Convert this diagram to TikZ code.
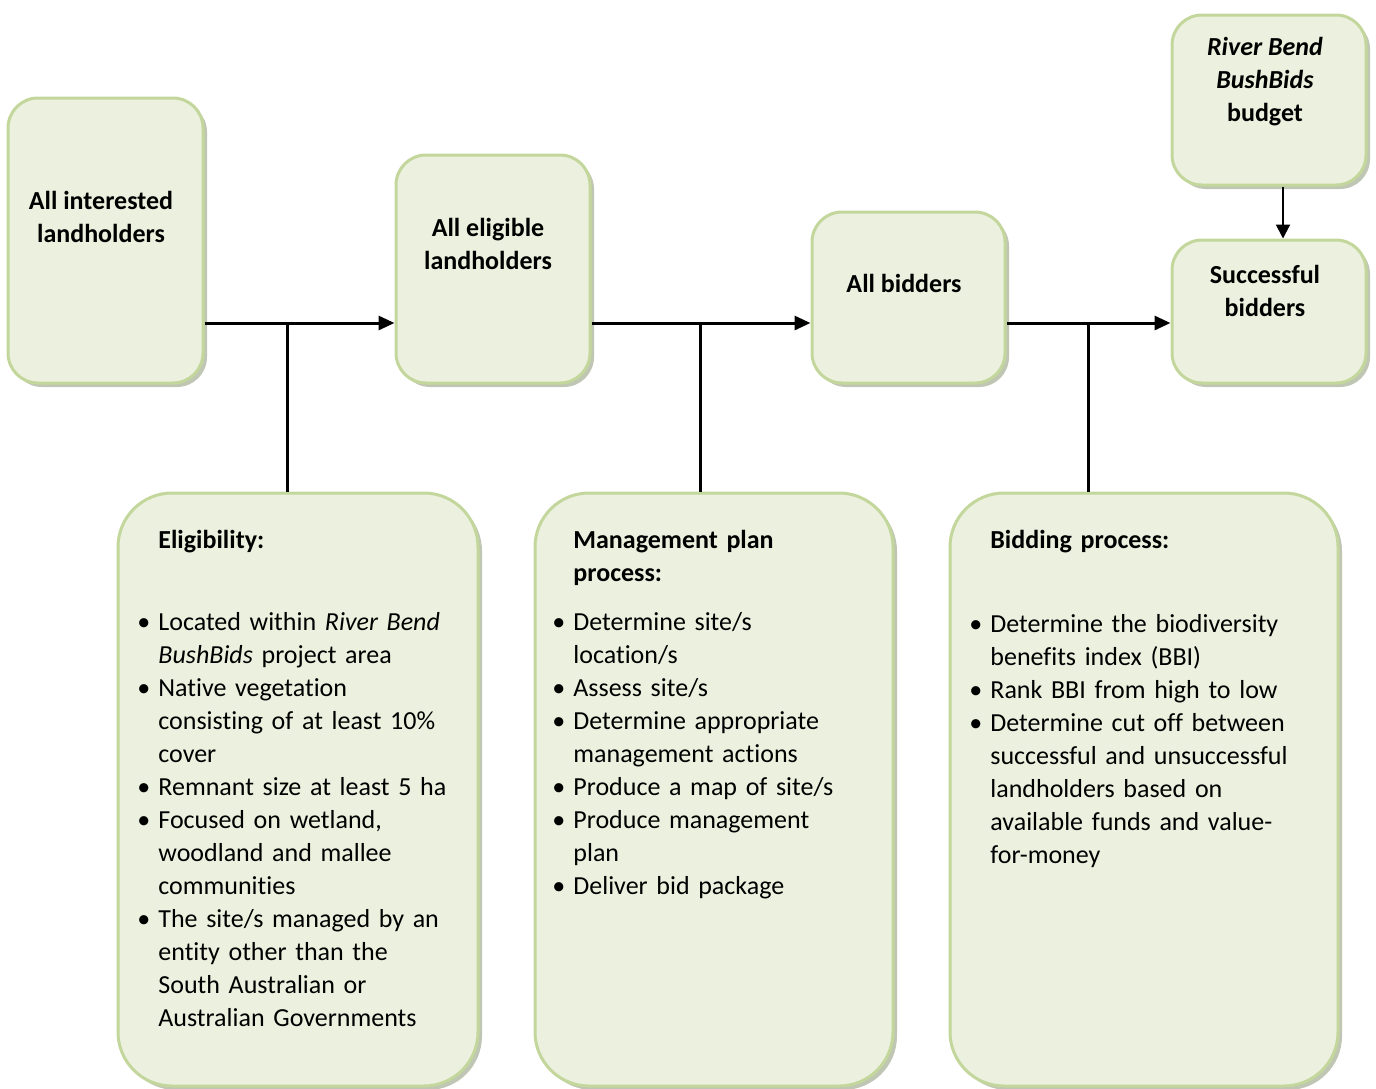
\documentclass[tikz,border=0pt]{standalone}
\usepackage{fontspec}
\setmainfont{Carlito}[Ligatures=NoCommon]
\usetikzlibrary{arrows.meta, shadows, positioning}
\definecolor{boxfill}{RGB}{235,241,222}
\definecolor{boxline}{RGB}{195,214,155}
\definecolor{boxshade}{RGB}{150,160,130}
\newcommand{\bfirst}{\noindent\llap{\textbullet\hspace{4pt}}}
\newcommand{\bpt}{\par\bfirst}

\begin{document}
\begin{tikzpicture}[x=0.5pt, y=-0.5pt,
  stage/.style={draw=boxline, fill=boxfill, line width=1.5pt, rounded corners=15pt, inner sep=0pt,
    drop shadow={shadow xshift=2pt, shadow yshift=-2pt, fill=boxshade, opacity=0.6}},
  panel/.style={stage, rounded corners=27pt},
  stagetext/.style={font=\bfseries\fontsize{13}{16.5}\selectfont, align=center, inner sep=0pt},
  heading/.style={font=\bfseries\fontsize{13}{16.5}\selectfont, align=left, anchor=base west, inner sep=0pt, text width=160pt},
  bullets/.style={font=\fontsize{13}{16.5}\selectfont, align=left, anchor=base west, inner sep=0pt, text width=165pt},
  flow/.style={line width=1.5pt, -{Triangle[length=8pt,width=7pt]}},
  branch/.style={line width=1.5pt}]
  \useasboundingbox (0,0) rectangle (1376,1088);

  % Stages along the top
  \node[stage, minimum width=97.5pt, minimum height=142.5pt] (interested) at (105.5,240.5) {};
  \node[stagetext] (interestedtext) at (101,217) {All interested\\landholders};

  \node[stage, minimum width=97pt, minimum height=114pt] (eligible) at (493,269) {};
  \node[stagetext] (eligibletext) at (488,244) {All eligible\\landholders};

  \node[stage, minimum width=96.5pt, minimum height=85.5pt] (bidders) at (908.5,297.5) {};
  \node[stagetext] (bidderstext) at (904,283) {All bidders};

  \node[stage, minimum width=97pt, minimum height=71.5pt] (successful) at (1269,311.5) {};
  \node[stagetext] (successfultext) at (1265,291) {Successful\\bidders};

  \node[stage, minimum width=97pt, minimum height=85pt] (budget) at (1269,100) {};
  \node[stagetext] (budgettext) at (1265,82) {\textit{River Bend}\\\textit{BushBids}\\budget};

  % Process panels
  \node[panel, minimum width=180pt, minimum height=296.5pt] (elig) at (298,789.5) {};
  \node[heading] (eligtitle) at (158,548) {Eligibility:};
  \node[bullets] (eliglist) at (158,630) {\bfirst Located within \textit{River Bend}\\\textit{BushBids} project area
    \bpt Native vegetation\\consisting of at least 10\%\\cover
    \bpt Remnant size at least 5 ha
    \bpt Focused on wetland,\\woodland and mallee\\communities
    \bpt The site/s managed by an\\entity other than the\\South Australian or\\Australian Governments};

  \node[panel, minimum width=179pt, minimum height=296.5pt] (mgmt) at (714,789.5) {};
  \node[heading] (mgmttitle) at (573,548) {Management plan\\process:};
  \node[bullets] (mgmtlist) at (573,630) {\bfirst Determine site/s\\location/s
    \bpt Assess site/s
    \bpt Determine appropriate\\management actions
    \bpt Produce a map of site/s
    \bpt Produce management\\plan
    \bpt Deliver bid package};

  \node[panel, minimum width=194pt, minimum height=296.5pt] (bidding) at (1144,789.5) {};
  \node[heading] (biddingtitle) at (990,548) {Bidding process:};
  \node[bullets] (biddinglist) at (990,632) {\bfirst Determine the biodiversity\\benefits index (BBI)
    \bpt Rank BBI from high to low
    \bpt Determine cut off between\\successful and unsuccessful\\landholders based on\\available funds and value-\\for-money};

  % Connectors
  \coordinate (j1) at (287,323);
  \coordinate (j2) at (700,323);
  \coordinate (j3) at (1088,323);
  \draw[flow] (interested.east |- j1) -- (eligible.west |- j1);
  \draw[branch] (j1) -- (elig.north -| j1);
  \draw[flow] (eligible.east |- j2) -- (bidders.west |- j2);
  \draw[branch] (j2) -- (mgmt.north -| j2);
  \draw[flow] (bidders.east |- j3) -- (successful.west |- j3);
  \draw[branch] (j3) -- (bidding.north -| j3);
  \draw[line width=1pt, -{Triangle[length=7pt,width=7pt]}] ([xshift=7pt]budget.south) -- ([xshift=7pt]successful.north);
\end{tikzpicture}
\end{document}
